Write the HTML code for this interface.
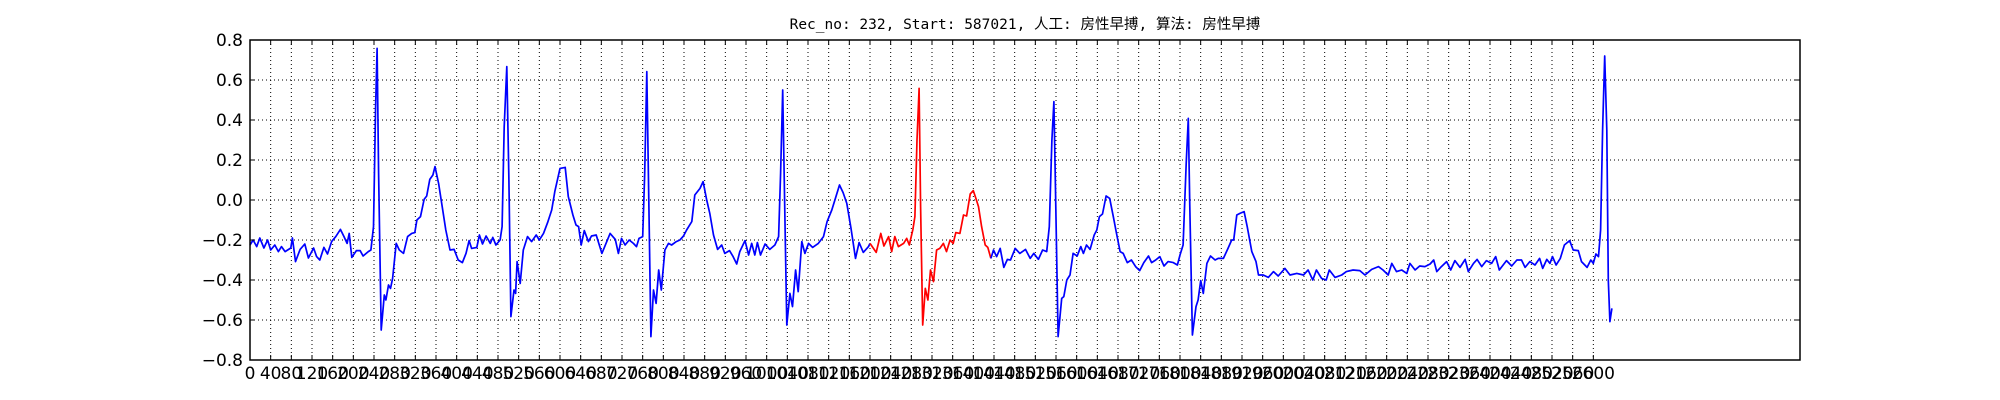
<!DOCTYPE html>
<html><head><meta charset="utf-8"><style>
html,body{margin:0;padding:0;background:#fff;}
svg{display:block;}
text{font-family:"DejaVu Sans","Liberation Sans",sans-serif;}
</style></head><body>
<svg id="chart" width="2000" height="400" xmlns="http://www.w3.org/2000/svg">
<rect x="0" y="0" width="2000" height="400" fill="#fff"/>
<text x="1025" y="29" text-anchor="middle" font-size="14.5" style="font-family:'DejaVu Sans Mono','Liberation Mono','Noto Sans CJK SC',monospace" fill="#000">Rec_no: 232, Start: 587021, 人工: 房性早搏, 算法: 房性早搏</text>
<g id="grid"></g>
<g id="series"></g>
<rect x="250" y="40" width="1550" height="320" fill="none" stroke="#000" stroke-width="1.5"/>
<g id="axes"></g>
</svg>
<script>
const sampleIdx=[0,6,13,19,27,34,40,48,55,61,68,79,82,88,97,106,113,123,129,135,143,150,158,166,175,182,188,192,197,206,213,219,229,234,239,243,246,249,254,260,263,268,272,276,283,289,297,305,313,319,323,330,337,342,348,354,358,365,371,379,387,395,403,411,418,424,429,439,444,450,457,465,470,476,484,488,492,497,501,505,511,514,517,523,529,537,545,554,560,568,576,584,590,600,610,616,625,631,636,641,647,655,661,670,681,689,697,707,713,719,726,734,742,748,753,760,764,768,772,776,781,786,791,796,803,810,816,825,832,839,845,855,861,871,877,884,890,897,905,913,919,928,935,942,948,958,965,971,977,982,988,997,1006,1016,1023,1027,1031,1036,1039,1045,1050,1056,1061,1068,1074,1081,1089,1100,1110,1117,1126,1132,1141,1148,1155,1163,1172,1179,1187,1197,1200,1212,1221,1227,1236,1242,1248,1255,1265,1271,1276,1283,1287,1291,1295,1298,1302,1307,1312,1317,1323,1329,1335,1342,1348,1355,1361,1366,1374,1381,1387,1394,1400,1405,1410,1416,1423,1428,1434,1439,1445,1452,1459,1466,1472,1481,1490,1501,1510,1517,1526,1534,1542,1547,1552,1556,1559,1564,1571,1575,1581,1587,1593,1601,1608,1613,1619,1626,1634,1639,1644,1650,1657,1664,1671,1677,1684,1690,1698,1706,1714,1722,1730,1739,1745,1753,1761,1769,1777,1787,1795,1800,1806,1812,1816,1819,1824,1831,1835,1840,1845,1852,1859,1868,1874,1884,1893,1900,1904,1910,1916,1924,1930,1939,1947,1952,1961,1971,1981,1990,2003,2013,2026,2039,2048,2057,2064,2074,2083,2089,2100,2113,2122,2135,2148,2158,2171,2184,2193,2203,2210,2219,2229,2239,2245,2255,2264,2274,2284,2291,2297,2306,2316,2324,2332,2342,2352,2358,2368,2375,2384,2393,2403,2411,2418,2432,2442,2452,2461,2468,2477,2487,2496,2502,2510,2516,2521,2528,2536,2544,2554,2561,2571,2577,2588,2595,2600,2605,2610,2614,2618,2622,2626,2629,2632,2636];
const amplitude=[-0.225,-0.2,-0.233,-0.19,-0.24,-0.2,-0.25,-0.225,-0.258,-0.233,-0.258,-0.24,-0.19,-0.308,-0.247,-0.22,-0.29,-0.24,-0.283,-0.3,-0.237,-0.27,-0.208,-0.183,-0.147,-0.183,-0.217,-0.167,-0.287,-0.253,-0.253,-0.28,-0.258,-0.25,-0.133,0.467,0.758,0.133,-0.65,-0.475,-0.5,-0.425,-0.442,-0.392,-0.217,-0.25,-0.267,-0.183,-0.167,-0.163,-0.1,-0.083,0.003,0.02,0.103,0.125,0.167,0.083,-0.017,-0.15,-0.25,-0.247,-0.3,-0.313,-0.267,-0.203,-0.242,-0.237,-0.175,-0.22,-0.18,-0.217,-0.187,-0.225,-0.2,-0.133,0.367,0.667,0.1,-0.583,-0.45,-0.467,-0.308,-0.417,-0.25,-0.183,-0.208,-0.175,-0.2,-0.167,-0.113,-0.05,0.042,0.158,0.163,0.017,-0.075,-0.125,-0.133,-0.225,-0.153,-0.208,-0.18,-0.175,-0.267,-0.217,-0.167,-0.197,-0.267,-0.192,-0.225,-0.2,-0.217,-0.233,-0.192,-0.183,0.133,0.642,-0.033,-0.683,-0.45,-0.517,-0.35,-0.45,-0.25,-0.217,-0.225,-0.208,-0.2,-0.18,-0.15,-0.108,0.025,0.058,0.092,0,-0.067,-0.175,-0.247,-0.225,-0.267,-0.253,-0.283,-0.32,-0.258,-0.203,-0.275,-0.217,-0.275,-0.213,-0.275,-0.22,-0.247,-0.225,-0.183,0.133,0.55,-0.2,-0.625,-0.467,-0.533,-0.35,-0.458,-0.208,-0.267,-0.217,-0.237,-0.217,-0.183,-0.108,-0.05,0,0.075,0.037,-0.017,-0.138,-0.292,-0.213,-0.262,-0.233,-0.217,-0.262,-0.167,-0.23,-0.183,-0.258,-0.183,-0.233,-0.217,-0.192,-0.225,-0.147,-0.083,0.3,0.558,-0.033,-0.625,-0.442,-0.5,-0.35,-0.408,-0.25,-0.242,-0.217,-0.258,-0.2,-0.217,-0.163,-0.167,-0.075,-0.08,0.03,0.047,0.008,-0.033,-0.133,-0.225,-0.237,-0.292,-0.25,-0.283,-0.242,-0.337,-0.297,-0.3,-0.242,-0.267,-0.247,-0.292,-0.267,-0.297,-0.25,-0.258,-0.133,0.3,0.492,0.05,-0.683,-0.492,-0.483,-0.4,-0.375,-0.267,-0.28,-0.233,-0.267,-0.225,-0.247,-0.175,-0.15,-0.083,-0.07,0.02,0.008,-0.083,-0.167,-0.258,-0.267,-0.313,-0.3,-0.333,-0.353,-0.313,-0.28,-0.313,-0.3,-0.283,-0.33,-0.308,-0.313,-0.325,-0.275,-0.225,0.183,0.408,-0.033,-0.675,-0.533,-0.5,-0.403,-0.467,-0.317,-0.28,-0.3,-0.292,-0.292,-0.242,-0.2,-0.2,-0.075,-0.067,-0.058,-0.133,-0.258,-0.308,-0.375,-0.375,-0.387,-0.358,-0.38,-0.342,-0.375,-0.367,-0.375,-0.35,-0.4,-0.35,-0.392,-0.4,-0.35,-0.387,-0.375,-0.358,-0.35,-0.353,-0.375,-0.347,-0.333,-0.35,-0.375,-0.317,-0.358,-0.35,-0.367,-0.317,-0.35,-0.33,-0.333,-0.32,-0.3,-0.358,-0.333,-0.308,-0.35,-0.303,-0.337,-0.297,-0.358,-0.317,-0.297,-0.333,-0.303,-0.317,-0.283,-0.35,-0.303,-0.33,-0.3,-0.3,-0.337,-0.308,-0.325,-0.292,-0.342,-0.297,-0.317,-0.283,-0.325,-0.292,-0.225,-0.203,-0.25,-0.253,-0.308,-0.337,-0.3,-0.317,-0.27,-0.283,-0.15,0.35,0.72,0.35,-0.4,-0.608,-0.542];
const highlightRange=[1200,1434];
const yTicks=[0.8,0.6,0.4,0.2,0.0,-0.2,-0.4,-0.6,-0.8];
const xTickStep=40, xTickMax=2600, xMax=3000, yMin=-0.8, yMax=0.8;

const NS='http://www.w3.org/2000/svg';
const L=250,R=1800,T=40,B=360;
const xs=s=>L+(s/xMax)*(R-L);
const ys=v=>T+(yMax-v)/(yMax-yMin)*(B-T);
function mk(tag,attrs,parent){const e=document.createElementNS(NS,tag);for(const k in attrs)e.setAttribute(k,attrs[k]);parent.appendChild(e);return e;}
const grid=document.getElementById('grid'),axes=document.getElementById('axes'),series=document.getElementById('series');
for(const v of yTicks){
  const y=ys(v);
  if(v<yMax&&v>yMin){const g=mk('line',{x1:L,x2:R,y1:y,y2:y,stroke:'#000','stroke-width':1,'stroke-dasharray':'1,3'},grid);
  
  }
  const t1=mk('line',{x1:L,x2:L+5,y1:y,y2:y,stroke:'#000'},axes);
  
  
  const t2=mk('line',{x1:R-5,x2:R,y1:y,y2:y,stroke:'#000'},axes);
  
  
  const lab=mk('text',{x:L-7,y:y+6,'text-anchor':'end','font-size':17,fill:'#000'},axes);
  lab.textContent=(v<0?'\u2212':'')+Math.abs(v).toFixed(1);
  
  
}
for(let s=0;s<=xTickMax;s+=xTickStep){
  const x=xs(s);
  if(s>0){const g=mk('line',{x1:x,x2:x,y1:T,y2:B,stroke:'#000','stroke-width':1,'stroke-dasharray':'1,3'},grid);
  
  }
  const t1=mk('line',{x1:x,x2:x,y1:B-5,y2:B,stroke:'#000'},axes);
  
  
  const t2=mk('line',{x1:x,x2:x,y1:T,y2:T+5,stroke:'#000'},axes);
  
  
  const lab=mk('text',{x:x,y:B+19,'text-anchor':'middle','font-size':17,fill:'#000'},axes);
  lab.textContent=String(s);
  
  
}
function seg(filter){const pts=[];for(let i=0;i<sampleIdx.length;i++){if(filter(sampleIdx[i]))pts.push(xs(sampleIdx[i]).toFixed(1)+','+ys(amplitude[i]).toFixed(1));}return pts.join(' ');}
const [h0,h1]=highlightRange;
const p1=mk('polyline',{points:seg(s=>s<=h0),fill:'none',stroke:'#0000ff','stroke-width':1.7,'stroke-linejoin':'round'},series);


const p2=mk('polyline',{points:seg(s=>s>=h0&&s<=h1),fill:'none',stroke:'#ff0000','stroke-width':1.7,'stroke-linejoin':'round'},series);


const p3=mk('polyline',{points:seg(s=>s>=h1),fill:'none',stroke:'#0000ff','stroke-width':1.7,'stroke-linejoin':'round'},series);


</script>
</body></html>
